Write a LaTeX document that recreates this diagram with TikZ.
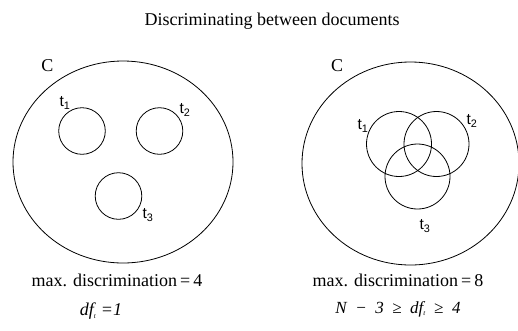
\documentclass[tikz,border=0pt]{standalone}
\usepackage{fontspec}
\setmainfont{Liberation Serif}
\newfontfamily\lblfont{Liberation Sans}
\begin{document}
\begin{tikzpicture}[x=1pt,y=-1pt,
  outline/.style={draw=black,line width=0.8pt},
  setlbl/.style={font=\lblfont\fontsize{15.5}{18}\selectfont,inner sep=0pt},
  clbl/.style={font=\fontsize{18}{21}\selectfont,inner sep=0pt},
  caption/.style={font=\fontsize{18}{21}\selectfont,inner sep=0pt}]
\useasboundingbox (0,0) rectangle (518,330);
\node[caption] (title) at (272,21) {Discriminating between documents};
% left
\draw[outline] (123,162) ellipse [x radius=110, y radius=101];
\node[clbl] (cL) at (47.5,66) {C};
\draw[outline] (82,131) circle [radius=23.3];
\draw[outline] (159.5,131) circle [radius=23.3];
\draw[outline] (118.5,196) circle [radius=23.3];
\node[setlbl] (t1L) at (65,103) {t\textsubscript{1}};
\node[setlbl] (t2L) at (185,110) {t\textsubscript{2}};
\node[setlbl] (t3L) at (148,215) {t\textsubscript{3}};
% right
\draw[outline] (410.5,163.5) ellipse [x radius=108.5, y radius=101.5];
\node[clbl] (cR) at (337,66) {C};
\draw[outline] (399,144) circle [radius=32.5];
\draw[outline] (436.5,144) circle [radius=32.5];
\draw[outline] (417.5,176.5) circle [radius=32.5];
\node[setlbl] (t1R) at (363,126) {t\textsubscript{1}};
\node[setlbl] (t2R) at (472,121) {t\textsubscript{2}};
\node[setlbl] (t3R) at (425,226) {t\textsubscript{3}};
% captions
\node[caption] (mL) at (117,280) {max. discrimination\,=\,4};
\node[caption] (mR) at (398,280) {max. discrimination\,=\,8};
\node[caption,font=\itshape\fontsize{18}{21}\selectfont] (dL) at (101,311) {df\textsubscript{\scriptsize t}~=1};
\node[caption,font=\itshape\fontsize{17}{21}\selectfont] (dR) at (398,309) {N ~−~ 3 ~≥~ df\textsubscript{\scriptsize t} ~≥~ 4};
\end{tikzpicture}
\end{document}
